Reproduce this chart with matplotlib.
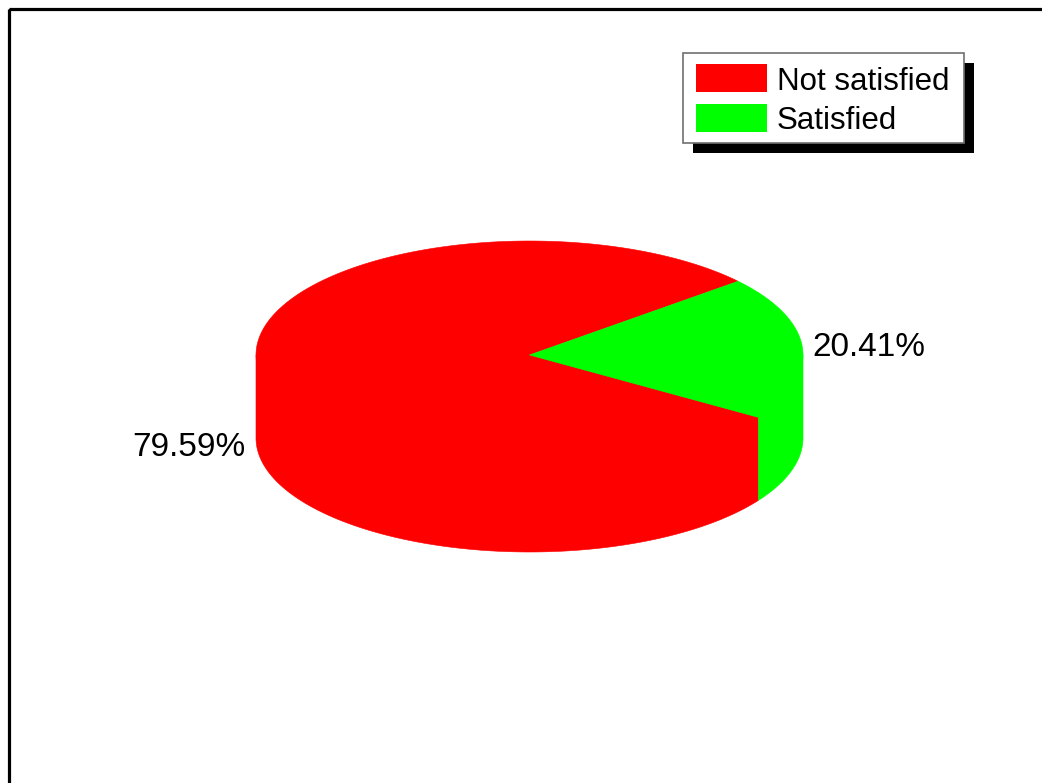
import numpy as np
import matplotlib
matplotlib.use("Agg")
import matplotlib.pyplot as plt
from matplotlib.patches import Polygon, Rectangle

plt.rcParams['font.family'] = ['Liberation Sans', 'DejaVu Sans']

# Survey result
categories = ["Not satisfied", "Satisfied"]
shares = [79.59, 20.41]
colors = ["#ff0000", "#00ff00"]

W, H = 1042, 783
fig = plt.figure(figsize=(W / 100, H / 100), dpi=100)
ax = fig.add_axes([0, 0, 1, 1])
ax.set_xlim(0, W)
ax.set_ylim(H, 0)
ax.axis("off")

# Outer frame (runs off the right and bottom edges)
ax.add_patch(Rectangle((9, 8.5), W + 20, H + 20, fill=False, ec="black", lw=2.3, zorder=1))

# 3D pie geometry (pixel space)
cx, cy = 529.5, 355     # centre of top face
a, b = 273.5, 114       # ellipse semi-axes
depth = 83              # thickness

def ell(t, dy=0.0):
    t = np.radians(t)
    return np.column_stack([cx + a * np.cos(t), cy - b * np.sin(t) + dy])

total = sum(shares)
spans = [s / total * 360 for s in shares]
# Not satisfied starts at 40.3 deg and runs counter-clockwise; Satisfied closes the circle
start = 40.3
angles = []
t0 = start
for sp in spans:
    angles.append((t0, t0 + sp))
    t0 += sp

# side walls (front half: 180..360 deg); each wall polygon also covers the
# top-face area behind it so no antialiasing seam shows along the rim
for (t1, t2), c in zip(angles, colors):
    for off in (0, 360, -360):
        lo, hi = max(t1 + off, 180), min(t2 + off, 360)
        if hi > lo:
            ts = np.linspace(lo, hi, 300)
            pts = np.vstack([[[cx, cy]], ell([lo]), ell(ts, depth), ell([hi])])
            ax.add_patch(Polygon(pts, closed=True, fc=c, ec=c, lw=0.4, zorder=2))

# top faces
for (t1, t2), c in zip(angles, colors):
    ts = np.linspace(t1, t2, 400)
    pts = np.vstack([[[cx, cy]], ell(ts)])
    ax.add_patch(Polygon(pts, closed=True, fc=c, ec=c, lw=0.4, zorder=3))

# percentage labels
ax.text(812, 348, f"{shares[1]:.2f}%", fontsize=24, ha="left", va="center", color="black", zorder=5)
ax.text(245, 447, f"{shares[0]:.2f}%", fontsize=24, ha="right", va="center", color="black", zorder=5)

# legend box with solid drop shadow
lx, ly, lw_, lh = 683, 53, 281, 90
ax.add_patch(Rectangle((lx + 10, ly + 10), lw_, lh, fc="black", ec="black", lw=0, zorder=6))
ax.add_patch(Rectangle((lx, ly), lw_, lh, fc="white", ec="#707070", lw=1.2, zorder=7))
for i, (lab, c) in enumerate(zip(categories, colors)):
    yc = 78.3 + 39.3 * i
    ax.add_patch(Rectangle((696, yc - 14), 71, 28, fc=c, ec="none", zorder=8))
    ax.text(777, yc, lab, fontsize=22.5, ha="left", va="center_baseline", color="black", zorder=8)

fig.savefig("out.png", dpi=100, facecolor="white")
